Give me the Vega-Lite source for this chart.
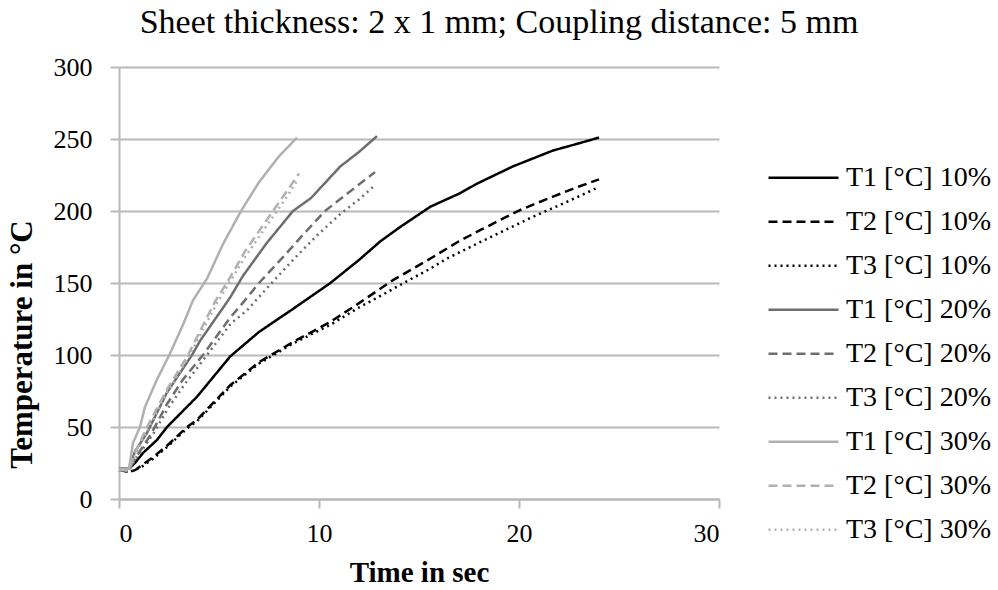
{
  "$schema": "https://vega.github.io/schema/vega-lite/v6.json",
  "width": 600,
  "height": 432,
  "autosize": {"type": "none"},
  "padding": {"left": 119, "top": 67, "right": 279, "bottom": 91},
  "background": "white",
  "title": {
    "text": "Sheet thickness: 2 x 1 mm; Coupling distance: 5 mm",
    "font": "Liberation Serif",
    "fontSize": 34,
    "fontWeight": "normal",
    "color": "black",
    "anchor": "middle",
    "dx": 80,
    "offset": 14
  },
  "config": {
    "view": {"stroke": null},
    "font": "Liberation Serif"
  },
  "data": {
    "values": [
      {"series": "T1 [°C] 10%", "time": 0, "temp": 21},
      {"series": "T1 [°C] 10%", "time": 0.5, "temp": 21},
      {"series": "T1 [°C] 10%", "time": 0.8, "temp": 25},
      {"series": "T1 [°C] 10%", "time": 1.2, "temp": 32},
      {"series": "T1 [°C] 10%", "time": 1.9, "temp": 41},
      {"series": "T1 [°C] 10%", "time": 2.4, "temp": 50},
      {"series": "T1 [°C] 10%", "time": 3.9, "temp": 71},
      {"series": "T1 [°C] 10%", "time": 5.56, "temp": 99},
      {"series": "T1 [°C] 10%", "time": 7, "temp": 116},
      {"series": "T1 [°C] 10%", "time": 8.7, "temp": 132},
      {"series": "T1 [°C] 10%", "time": 10.57, "temp": 150},
      {"series": "T1 [°C] 10%", "time": 12, "temp": 166},
      {"series": "T1 [°C] 10%", "time": 13.07, "temp": 179},
      {"series": "T1 [°C] 10%", "time": 14.07, "temp": 189},
      {"series": "T1 [°C] 10%", "time": 15.57, "temp": 203},
      {"series": "T1 [°C] 10%", "time": 17, "temp": 212},
      {"series": "T1 [°C] 10%", "time": 17.9, "temp": 219},
      {"series": "T1 [°C] 10%", "time": 19.7, "temp": 231},
      {"series": "T1 [°C] 10%", "time": 21.7, "temp": 242},
      {"series": "T1 [°C] 10%", "time": 23, "temp": 247},
      {"series": "T1 [°C] 10%", "time": 24, "temp": 251},

      {"series": "T2 [°C] 10%", "time": 0, "temp": 20},
      {"series": "T2 [°C] 10%", "time": 0.5, "temp": 19},
      {"series": "T2 [°C] 10%", "time": 0.8, "temp": 20},
      {"series": "T2 [°C] 10%", "time": 1.2, "temp": 24},
      {"series": "T2 [°C] 10%", "time": 1.7, "temp": 29},
      {"series": "T2 [°C] 10%", "time": 2.4, "temp": 37},
      {"series": "T2 [°C] 10%", "time": 3.4, "temp": 50},
      {"series": "T2 [°C] 10%", "time": 3.9, "temp": 55},
      {"series": "T2 [°C] 10%", "time": 5.56, "temp": 79},
      {"series": "T2 [°C] 10%", "time": 7, "temp": 95},
      {"series": "T2 [°C] 10%", "time": 8.7, "temp": 109},
      {"series": "T2 [°C] 10%", "time": 10.57, "temp": 123},
      {"series": "T2 [°C] 10%", "time": 12, "temp": 136},
      {"series": "T2 [°C] 10%", "time": 13.7, "temp": 152},
      {"series": "T2 [°C] 10%", "time": 15.57, "temp": 167},
      {"series": "T2 [°C] 10%", "time": 17, "temp": 179},
      {"series": "T2 [°C] 10%", "time": 18.1, "temp": 187},
      {"series": "T2 [°C] 10%", "time": 20.1, "temp": 201},
      {"series": "T2 [°C] 10%", "time": 21.7, "temp": 210},
      {"series": "T2 [°C] 10%", "time": 23, "temp": 217},
      {"series": "T2 [°C] 10%", "time": 24, "temp": 222},

      {"series": "T3 [°C] 10%", "time": 0, "temp": 20},
      {"series": "T3 [°C] 10%", "time": 0.5, "temp": 19},
      {"series": "T3 [°C] 10%", "time": 0.8, "temp": 20},
      {"series": "T3 [°C] 10%", "time": 1.2, "temp": 23},
      {"series": "T3 [°C] 10%", "time": 1.7, "temp": 28},
      {"series": "T3 [°C] 10%", "time": 2.4, "temp": 36},
      {"series": "T3 [°C] 10%", "time": 3.4, "temp": 49},
      {"series": "T3 [°C] 10%", "time": 3.9, "temp": 54},
      {"series": "T3 [°C] 10%", "time": 5.56, "temp": 78},
      {"series": "T3 [°C] 10%", "time": 7, "temp": 94},
      {"series": "T3 [°C] 10%", "time": 8.7, "temp": 108},
      {"series": "T3 [°C] 10%", "time": 10.57, "temp": 121},
      {"series": "T3 [°C] 10%", "time": 12, "temp": 133},
      {"series": "T3 [°C] 10%", "time": 13.07, "temp": 141},
      {"series": "T3 [°C] 10%", "time": 14.5, "temp": 152},
      {"series": "T3 [°C] 10%", "time": 15.57, "temp": 160},
      {"series": "T3 [°C] 10%", "time": 16.4, "temp": 167},
      {"series": "T3 [°C] 10%", "time": 18, "temp": 178},
      {"series": "T3 [°C] 10%", "time": 20.7, "temp": 196},
      {"series": "T3 [°C] 10%", "time": 22.5, "temp": 207},
      {"series": "T3 [°C] 10%", "time": 23.9, "temp": 216},

      {"series": "T1 [°C] 20%", "time": 0, "temp": 21},
      {"series": "T1 [°C] 20%", "time": 0.5, "temp": 21},
      {"series": "T1 [°C] 20%", "time": 0.8, "temp": 33},
      {"series": "T1 [°C] 20%", "time": 1.4, "temp": 46},
      {"series": "T1 [°C] 20%", "time": 2.4, "temp": 74},
      {"series": "T1 [°C] 20%", "time": 3.65, "temp": 100},
      {"series": "T1 [°C] 20%", "time": 4.06, "temp": 110},
      {"series": "T1 [°C] 20%", "time": 5.56, "temp": 140},
      {"series": "T1 [°C] 20%", "time": 6.2, "temp": 155},
      {"series": "T1 [°C] 20%", "time": 7.4, "temp": 178},
      {"series": "T1 [°C] 20%", "time": 8.7, "temp": 200},
      {"series": "T1 [°C] 20%", "time": 9.6, "temp": 209},
      {"series": "T1 [°C] 20%", "time": 11.07, "temp": 231},
      {"series": "T1 [°C] 20%", "time": 12, "temp": 241},
      {"series": "T1 [°C] 20%", "time": 12.9, "temp": 252},

      {"series": "T2 [°C] 20%", "time": 0, "temp": 20},
      {"series": "T2 [°C] 20%", "time": 0.5, "temp": 20},
      {"series": "T2 [°C] 20%", "time": 0.8, "temp": 28},
      {"series": "T2 [°C] 20%", "time": 1.6, "temp": 45},
      {"series": "T2 [°C] 20%", "time": 2.4, "temp": 66},
      {"series": "T2 [°C] 20%", "time": 3.2, "temp": 83},
      {"series": "T2 [°C] 20%", "time": 4.2, "temp": 100},
      {"series": "T2 [°C] 20%", "time": 5.56, "temp": 126},
      {"series": "T2 [°C] 20%", "time": 6.06, "temp": 134},
      {"series": "T2 [°C] 20%", "time": 7, "temp": 150},
      {"series": "T2 [°C] 20%", "time": 8.2, "temp": 168},
      {"series": "T2 [°C] 20%", "time": 9.3, "temp": 185},
      {"series": "T2 [°C] 20%", "time": 10.3, "temp": 200},
      {"series": "T2 [°C] 20%", "time": 11.5, "temp": 213},
      {"series": "T2 [°C] 20%", "time": 12.8, "temp": 227},

      {"series": "T3 [°C] 20%", "time": 0, "temp": 20},
      {"series": "T3 [°C] 20%", "time": 0.5, "temp": 20},
      {"series": "T3 [°C] 20%", "time": 0.8, "temp": 27},
      {"series": "T3 [°C] 20%", "time": 1.7, "temp": 45},
      {"series": "T3 [°C] 20%", "time": 2.5, "temp": 64},
      {"series": "T3 [°C] 20%", "time": 3.3, "temp": 80},
      {"series": "T3 [°C] 20%", "time": 4.4, "temp": 100},
      {"series": "T3 [°C] 20%", "time": 5.6, "temp": 122},
      {"series": "T3 [°C] 20%", "time": 6.4, "temp": 131},
      {"series": "T3 [°C] 20%", "time": 7.5, "temp": 148},
      {"series": "T3 [°C] 20%", "time": 8.7, "temp": 166},
      {"series": "T3 [°C] 20%", "time": 9.9, "temp": 183},
      {"series": "T3 [°C] 20%", "time": 11.07, "temp": 198},
      {"series": "T3 [°C] 20%", "time": 12, "temp": 208},
      {"series": "T3 [°C] 20%", "time": 12.8, "temp": 218},

      {"series": "T1 [°C] 30%", "time": 0, "temp": 21},
      {"series": "T1 [°C] 30%", "time": 0.5, "temp": 21},
      {"series": "T1 [°C] 30%", "time": 0.7, "temp": 39},
      {"series": "T1 [°C] 30%", "time": 1.05, "temp": 50},
      {"series": "T1 [°C] 30%", "time": 1.3, "temp": 64},
      {"series": "T1 [°C] 30%", "time": 1.9, "temp": 83},
      {"series": "T1 [°C] 30%", "time": 2.55, "temp": 101},
      {"series": "T1 [°C] 30%", "time": 3.2, "temp": 121},
      {"series": "T1 [°C] 30%", "time": 3.7, "temp": 138},
      {"series": "T1 [°C] 30%", "time": 4.4, "temp": 153},
      {"series": "T1 [°C] 30%", "time": 5.2, "temp": 177},
      {"series": "T1 [°C] 30%", "time": 6.1, "temp": 200},
      {"series": "T1 [°C] 30%", "time": 7, "temp": 220},
      {"series": "T1 [°C] 30%", "time": 8, "temp": 238},
      {"series": "T1 [°C] 30%", "time": 8.9, "temp": 251},

      {"series": "T2 [°C] 30%", "time": 0, "temp": 20},
      {"series": "T2 [°C] 30%", "time": 0.5, "temp": 20},
      {"series": "T2 [°C] 30%", "time": 0.8, "temp": 32},
      {"series": "T2 [°C] 30%", "time": 1.4, "temp": 50},
      {"series": "T2 [°C] 30%", "time": 2.4, "temp": 76},
      {"series": "T2 [°C] 30%", "time": 3.45, "temp": 100},
      {"series": "T2 [°C] 30%", "time": 4.06, "temp": 117},
      {"series": "T2 [°C] 30%", "time": 4.8, "temp": 137},
      {"series": "T2 [°C] 30%", "time": 5.56, "temp": 154},
      {"series": "T2 [°C] 30%", "time": 6.3, "temp": 172},
      {"series": "T2 [°C] 30%", "time": 7, "temp": 186},
      {"series": "T2 [°C] 30%", "time": 7.7, "temp": 200},
      {"series": "T2 [°C] 30%", "time": 8.4, "temp": 214},
      {"series": "T2 [°C] 30%", "time": 9, "temp": 226},

      {"series": "T3 [°C] 30%", "time": 0, "temp": 20},
      {"series": "T3 [°C] 30%", "time": 0.5, "temp": 20},
      {"series": "T3 [°C] 30%", "time": 0.8, "temp": 30},
      {"series": "T3 [°C] 30%", "time": 1.5, "temp": 50},
      {"series": "T3 [°C] 30%", "time": 2.5, "temp": 76},
      {"series": "T3 [°C] 30%", "time": 3.5, "temp": 99},
      {"series": "T3 [°C] 30%", "time": 4.1, "temp": 115},
      {"series": "T3 [°C] 30%", "time": 4.9, "temp": 136},
      {"series": "T3 [°C] 30%", "time": 5.6, "temp": 152},
      {"series": "T3 [°C] 30%", "time": 6.3, "temp": 168},
      {"series": "T3 [°C] 30%", "time": 7, "temp": 182},
      {"series": "T3 [°C] 30%", "time": 7.8, "temp": 198},
      {"series": "T3 [°C] 30%", "time": 8.4, "temp": 210},
      {"series": "T3 [°C] 30%", "time": 8.9, "temp": 221}
    ]
  },
  "mark": {"type": "line", "strokeWidth": 2.5, "interpolate": "linear"},
  "encoding": {
    "x": {
      "field": "time",
      "type": "quantitative",
      "scale": {"domain": [0, 30], "nice": false, "zero": false},
      "axis": {
        "title": "Time in sec",
        "values": [0, 10, 20, 30],
        "grid": false,
        "domainColor": "#b8b8b8",
        "domainWidth": 2,
        "tickColor": "#b8b8b8",
        "tickWidth": 2,
        "tickSize": 9,
        "labelPadding": 12,
        "labelFont": "Liberation Serif",
        "labelFontSize": 26,
        "labelColor": "black",
        "titleFont": "Liberation Serif",
        "titleFontSize": 29,
        "titleFontWeight": "bold",
        "titleColor": "black",
        "titlePadding": 12
      }
    },
    "y": {
      "field": "temp",
      "type": "quantitative",
      "scale": {"domain": [0, 300], "nice": false, "zero": false},
      "axis": {
        "title": "Temperature in °C",
        "values": [0, 50, 100, 150, 200, 250, 300],
        "grid": true,
        "gridColor": "#b8b8b8",
        "gridWidth": 2,
        "domainColor": "#b8b8b8",
        "domainWidth": 2,
        "tickColor": "#b8b8b8",
        "tickWidth": 2,
        "tickSize": 9,
        "labelPadding": 18,
        "labelFont": "Liberation Serif",
        "labelFontSize": 26,
        "labelColor": "black",
        "titleFont": "Liberation Serif",
        "titleFontSize": 31,
        "titleFontWeight": "bold",
        "titleColor": "black",
        "titleX": -97,
        "titleY": 277,
        "titleAngle": -90,
        "titleBaseline": "middle",
        "titleAlign": "center"
      }
    },
    "color": {
      "field": "series",
      "type": "nominal",
      "scale": {
        "domain": ["T1 [°C] 10%", "T2 [°C] 10%", "T3 [°C] 10%", "T1 [°C] 20%", "T2 [°C] 20%", "T3 [°C] 20%", "T1 [°C] 30%", "T2 [°C] 30%", "T3 [°C] 30%"],
        "range": ["#000000", "#000000", "#000000", "#6e6e6e", "#6e6e6e", "#6e6e6e", "#b0b0b0", "#b0b0b0", "#b0b0b0"]
      },
      "legend": {
        "title": null,
        "orient": "none",
        "legendX": 648,
        "legendY": 89,
        "padding": 0,
        "symbolType": "stroke",
        "symbolSize": 4900,
        "symbolStrokeWidth": 2.5,
        "labelFont": "Liberation Serif",
        "labelFontSize": 28,
        "labelColor": "black",
        "labelOffset": 6,
        "rowPadding": 0,
        "clipHeight": 43.7,
        "labelLimit": 300
      }
    },
    "strokeDash": {
      "field": "series",
      "type": "nominal",
      "scale": {
        "domain": ["T1 [°C] 10%", "T2 [°C] 10%", "T3 [°C] 10%", "T1 [°C] 20%", "T2 [°C] 20%", "T3 [°C] 20%", "T1 [°C] 30%", "T2 [°C] 30%", "T3 [°C] 30%"],
        "range": [[1, 0], [9, 5], [2, 4], [1, 0], [9, 5], [2, 4], [1, 0], [9, 5], [2, 4]]
      },
      "legend": {
        "title": null,
        "orient": "none",
        "legendX": 648,
        "legendY": 89,
        "padding": 0,
        "symbolType": "stroke",
        "symbolSize": 4900,
        "symbolStrokeWidth": 2.5,
        "labelFont": "Liberation Serif",
        "labelFontSize": 28,
        "labelColor": "black",
        "labelOffset": 6,
        "rowPadding": 0,
        "clipHeight": 43.7,
        "labelLimit": 300
      }
    }
  }
}
